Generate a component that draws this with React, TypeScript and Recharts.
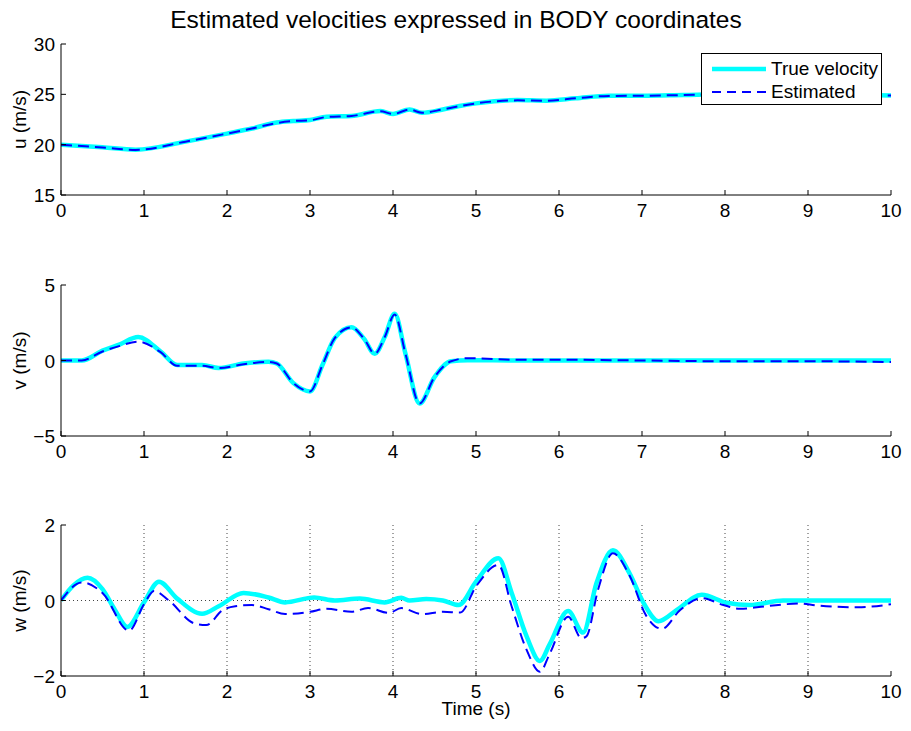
import { CartesianGrid, Legend, Line, LineChart, XAxis, YAxis } from 'recharts'

const FONT = "'Liberation Sans', Arial, Helvetica, sans-serif"
const TRUE_COLOR = '#00ffff'
const EST_COLOR = '#0000ff'
const TRUE_NAME = 'True velocity'
const EST_NAME = 'Estimated'
const DASH = '11 6'

const TIME_TICKS = [0, 1, 2, 3, 4, 5, 6, 7, 8, 9, 10]

// u (m/s)
const uTime = [0, 0.5, 0.9, 1.5, 2.0, 2.3, 2.6, 2.8, 3.0, 3.2, 3.5, 3.85, 4.0, 4.2, 4.35, 4.6, 4.8, 5.0, 5.5, 5.85, 6.2, 6.6, 7.0, 7.5, 8.0, 9.0, 10]
const uTrue = [20, 19.74, 19.5, 20.3, 21.1, 21.6, 22.2, 22.35, 22.45, 22.78, 22.85, 23.34, 23.05, 23.5, 23.17, 23.5, 23.84, 24.1, 24.43, 24.37, 24.6, 24.86, 24.86, 24.93, 25.0, 25.0, 24.88]
const uEst = [20, 19.72, 19.48, 20.3, 21.1, 21.6, 22.15, 22.35, 22.42, 22.75, 22.85, 23.32, 23.05, 23.48, 23.17, 23.5, 23.82, 24.1, 24.4, 24.37, 24.6, 24.84, 24.86, 24.93, 25.0, 25.0, 24.88]
const uTicks = [15, 20, 25, 30]

// v (m/s)
const vTime = [0, 0.25, 0.5, 0.7, 0.93, 1.2, 1.4, 1.7, 1.9, 2.2, 2.5, 2.6, 2.8, 3.0, 3.15, 3.3, 3.5, 3.65, 3.78, 3.9, 4.02, 4.15, 4.32, 4.5, 4.7, 4.9, 5.5, 6, 7, 8, 9, 10]
const vTrue = [0, 0, 0.65, 1.05, 1.55, 0.6, -0.3, -0.3, -0.5, -0.2, -0.08, -0.2, -1.5, -2.05, -0.3, 1.5, 2.2, 1.45, 0.45, 1.55, 3.1, 0.45, -2.85, -1.1, -0.05, 0.02, 0, 0, 0, 0, 0, 0]
const vEst = [0, 0, 0.6, 0.95, 1.25, 0.55, -0.35, -0.35, -0.5, -0.25, -0.1, -0.2, -1.5, -2.05, -0.3, 1.5, 2.2, 1.45, 0.45, 1.55, 3.05, 0.45, -2.85, -1.1, -0.05, 0.15, 0.05, 0.05, 0, -0.05, -0.05, -0.1]
const vTicks = [-5, 0, 5]

// w (m/s)
const wTrueTime = [0, 0.15, 0.32, 0.5, 0.65, 0.8, 1.0, 1.18, 1.4, 1.7, 1.9, 2.2, 2.5, 2.7, 3.05, 3.3, 3.6, 3.9, 4.1, 4.2, 4.4, 4.6, 4.79, 5.0, 5.27, 5.43, 5.61, 5.77, 5.89, 6.11, 6.29, 6.45, 6.65, 6.85, 7.02, 7.2, 7.42, 7.72, 8.02, 8.3, 8.7, 9.1, 9.5, 10]
const wTrue = [0, 0.4, 0.6, 0.3, -0.25, -0.7, -0.05, 0.5, 0.05, -0.35, -0.15, 0.2, 0.08, -0.05, 0.08, 0, 0.05, -0.05, 0.07, 0, 0.04, 0, -0.12, 0.5, 1.12, 0.2, -0.95, -1.6, -1.15, -0.28, -0.85, 0.45, 1.33, 0.72, -0.07, -0.55, -0.25, 0.15, -0.06, -0.12, 0, 0, 0, 0]
const wEstTime = [0, 0.25, 0.5, 0.82, 1.0, 1.12, 1.3, 1.6, 1.75, 1.95, 2.1, 2.3, 2.5, 2.7, 3.0, 3.2, 3.5, 3.7, 3.95, 4.1, 4.35, 4.6, 4.81, 5.0, 5.27, 5.43, 5.61, 5.77, 5.89, 6.11, 6.27, 6.33, 6.47, 6.65, 6.85, 7.05, 7.24, 7.46, 7.72, 7.98, 8.18, 8.5, 8.9, 9.1, 9.6, 10]
const wEst = [0, 0.48, 0.2, -0.8, -0.1, 0.25, 0.0, -0.6, -0.65, -0.25, -0.15, -0.12, -0.23, -0.36, -0.3, -0.22, -0.3, -0.2, -0.33, -0.2, -0.36, -0.3, -0.32, 0.37, 0.94, -0.16, -1.31, -1.89, -1.4, -0.43, -1.0, -0.95, 0.28, 1.25, 0.66, -0.4, -0.75, -0.25, 0.06, -0.12, -0.22, -0.15, -0.08, -0.13, -0.18, -0.1]
const wTicks = [-2, 0, 2]

const toPoints = (ts: number[], vs: number[]) => ts.map((t, i) => ({ t, v: vs[i] }))

const fmt = (v: number) => (v < 0 ? `\u2212${Math.abs(v)}` : `${v}`)

function BottomTick({ x, y, payload }: any) {
  return (
    <g>
      <line x1={x} x2={x} y1={y} y2={y - 5} stroke="#000" />
      <text x={x} y={y + 22} textAnchor="middle" fontSize={19} fontFamily={FONT} fill="#000">
        {fmt(payload.value)}
      </text>
    </g>
  )
}

function LeftTick({ x, y, payload }: any) {
  return (
    <g>
      <line x1={x} x2={x + 5} y1={y} y2={y} stroke="#000" />
      <text x={x - 6} y={y + 7} textAnchor="end" fontSize={19} fontFamily={FONT} fill="#000">
        {fmt(payload.value)}
      </text>
    </g>
  )
}

const TopTick = ({ x, y }: any) => <line x1={x} x2={x} y1={y} y2={y + 5} stroke="#000" />
const RightTick = ({ x, y }: any) => <line x1={x} x2={x - 5} y1={y} y2={y} stroke="#000" />

function LegendBox({ payload }: any) {
  const order = [TRUE_NAME, EST_NAME]
  const items = [...(payload ?? [])].sort((a: any, b: any) => order.indexOf(a.value) - order.indexOf(b.value))
  return (
    <div
      style={{
        position: 'relative',
        width: 181,
        height: 52,
        border: '1px solid #000',
        background: '#fff',
        boxSizing: 'border-box',
        fontFamily: FONT,
        fontSize: 19,
      }}
    >
      {items.map((p: any, i: number) => {
        const isTrue = p.value === TRUE_NAME
        return (
          <div key={p.value} style={{ position: 'absolute', left: 10, top: 3 + i * 23, height: 23, display: 'flex', alignItems: 'center', whiteSpace: 'nowrap' }}>
            <svg width={54} height={10}>
              <line
                x1={0}
                x2={54}
                y1={5}
                y2={5}
                stroke={isTrue ? TRUE_COLOR : EST_COLOR}
                strokeWidth={isTrue ? 4.5 : 2}
                strokeDasharray={isTrue ? undefined : '9 6'}
              />
            </svg>
            <span style={{ marginLeft: 5, color: '#000' }}>{p.value}</span>
          </div>
        )
      })}
    </div>
  )
}

interface PanelProps {
  top: number
  height: number
  marginTop: number
  marginBottom: number
  domain: [number, number]
  yTicks: number[]
  yLabel: string
  trueData: { t: number; v: number }[]
  estData: { t: number; v: number }[]
  grid?: boolean
  legend?: boolean
  xLabel?: string
}

function Panel(p: PanelProps) {
  return (
    <div style={{ position: 'absolute', left: 0, top: p.top }}>
      <LineChart
        width={911}
        height={p.height}
        margin={{ top: p.marginTop, right: 20, bottom: p.marginBottom, left: 0 }}
      >
        {p.grid && (
          <CartesianGrid stroke="#444" strokeDasharray="1 3" horizontalValues={[0]} verticalValues={[1, 2, 3, 4, 5, 6, 7, 8, 9]} />
        )}
        <XAxis
          dataKey="t"
          type="number"
          domain={[0, 10]}
          ticks={TIME_TICKS}
          interval={0}
          allowDataOverflow
          height={p.xLabel ? 50 : 30}
          tickSize={0}
          tickMargin={0}
          tickLine={false}
          tick={<BottomTick />}
          axisLine={{ stroke: '#000' }}
          label={
            p.xLabel
              ? { value: p.xLabel, position: 'insideBottom', offset: 11, fontSize: 19, fontFamily: FONT, fill: '#000' }
              : undefined
          }
        />
        <XAxis
          xAxisId="top"
          orientation="top"
          dataKey="t"
          type="number"
          domain={[0, 10]}
          ticks={TIME_TICKS}
          interval={0}
          height={0}
          tickSize={0}
          tickMargin={0}
          tickLine={false}
          tick={<TopTick />}
          axisLine={{ stroke: '#000' }}
        />
        <YAxis
          type="number"
          domain={p.domain}
          ticks={p.yTicks}
          interval={0}
          allowDataOverflow
          width={61}
          tickSize={0}
          tickMargin={0}
          tickLine={false}
          tick={<LeftTick />}
          axisLine={{ stroke: '#000' }}
          label={{
            content: ({ viewBox }: any) => {
              const cx = 19
              const cy = viewBox.y + viewBox.height / 2
              return (
                <text
                  x={cx}
                  y={cy}
                  transform={`rotate(-90 ${cx} ${cy})`}
                  textAnchor="middle"
                  dominantBaseline="central"
                  fontSize={19}
                  fontFamily={FONT}
                  fill="#000"
                >
                  {p.yLabel}
                </text>
              )
            },
          }}
        />
        <YAxis
          yAxisId="right"
          orientation="right"
          type="number"
          domain={p.domain}
          ticks={p.yTicks}
          interval={0}
          width={0}
          tickSize={0}
          tickMargin={0}
          tickLine={false}
          tick={<RightTick />}
          axisLine={{ stroke: '#000' }}
        />
        {p.legend && (
          <Legend
            layout="horizontal"
            verticalAlign="middle"
            align="center"
            content={<LegendBox />}
            wrapperStyle={{ position: 'absolute', left: 701, top: 53, width: 181, height: 52 }}
          />
        )}
        <Line
          data={p.trueData}
          dataKey="v"
          name={TRUE_NAME}
          type="monotone"
          stroke={TRUE_COLOR}
          strokeWidth={4.5}
          dot={false}
          activeDot={false}
          isAnimationActive={false}
        />
        <Line
          data={p.estData}
          dataKey="v"
          name={EST_NAME}
          type="monotone"
          stroke={EST_COLOR}
          strokeWidth={2}
          strokeDasharray={DASH}
          dot={false}
          activeDot={false}
          isAnimationActive={false}
        />
      </LineChart>
    </div>
  )
}

export default function App() {
  return (
    <div style={{ position: 'absolute', left: 0, top: 0, width: 911, height: 731, background: '#fff', fontFamily: FONT }}>
      <Panel
        top={0}
        height={240}
        marginTop={44}
        marginBottom={15}
        domain={[15, 30]}
        yTicks={uTicks}
        yLabel="u (m/s)"
        trueData={toPoints(uTime, uTrue)}
        estData={toPoints(uTime, uEst)}
        legend
      />
      <Panel
        top={240}
        height={240}
        marginTop={45}
        marginBottom={14}
        domain={[-5, 5]}
        yTicks={vTicks}
        yLabel="v (m/s)"
        trueData={toPoints(vTime, vTrue)}
        estData={toPoints(vTime, vEst)}
      />
      <Panel
        top={480}
        height={251}
        marginTop={45}
        marginBottom={5}
        domain={[-2, 2]}
        yTicks={wTicks}
        yLabel="w (m/s)"
        trueData={toPoints(wTrueTime, wTrue)}
        estData={toPoints(wEstTime, wEst)}
        grid
        xLabel="Time (s)"
      />
      <svg width={911} height={40} style={{ position: 'absolute', left: 0, top: 0 }}>
        <text x={456} y={28} textAnchor="middle" fontSize={24.5} fontFamily={FONT} fill="#000">
          Estimated velocities expressed in BODY coordinates
        </text>
      </svg>
    </div>
  )
}
